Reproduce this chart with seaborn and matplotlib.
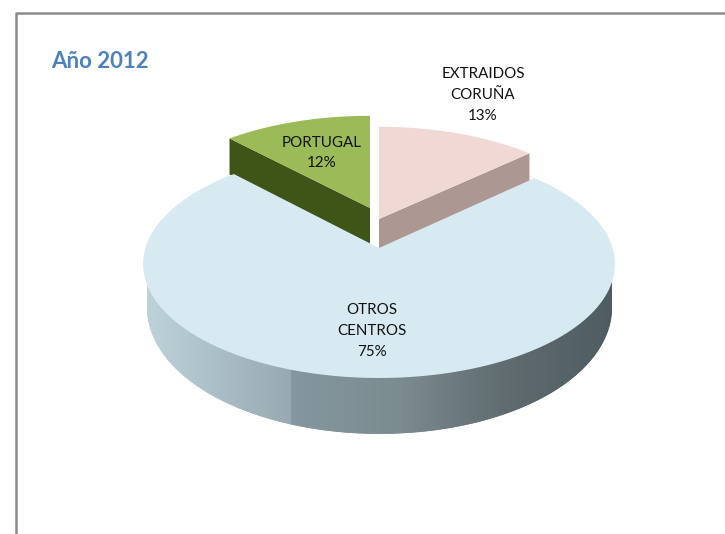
import numpy as np
import matplotlib
matplotlib.use("Agg")
import matplotlib.pyplot as plt
import seaborn as sns

categories = ["EXTRAIDOS\nCORUÑA", "OTROS\nCENTROS", "PORTUGAL"]
shares = [13, 75, 12]
title = "Año 2012"

sns.set_theme(style="white")
plt.rcParams["font.family"] = ["Lato", "DejaVu Sans"]

# pie geometry, in pixels of the 725x534 picture
APEX = (379, 248)
RX, RY, TILT = 233.6, 111.8, 0.14
THICK = 55
WALL_STEP = 291  # the wall changes shade abruptly here
wall_left = ["#bdd3da", "#98aab1"]
wall_right = ["#84969e", "#7b8b90", "#5e6b6f", "#4d5a60"]


def rim(theta, scale=1.0, xscale=1.0):
    # theta is clockwise from 12 o'clock, in degrees
    t = np.radians(theta)
    x, y = np.sin(t), np.cos(t)
    d = 1 + TILT * y
    return xscale * scale * RX * x / d, -scale * RY * y / d


def slice_xy(start, end, apex, scale=1.0, xscale=1.0):
    xs, ys = rim(np.linspace(start, end, 120), scale, xscale)
    return np.r_[apex[0], apex[0] + xs], np.r_[apex[1], apex[1] + ys]


edges = np.cumsum([0] + shares) * 3.6

fig, ax = plt.subplots(figsize=(7.25, 5.34), dpi=100)
ax.set_position([0, 0, 1, 1])
ax.set_xlim(0, 725)
ax.set_ylim(534, 0)
ax.axis("off")

# frame
ax.plot([16.5, 16.5, 725], [534, 12.5, 12.5], color="#8c8c8c", lw=1.8)

# exploded slices: side first, then top
pink_apex = (379, 219)
green_apex = (370, 208)
S = 0.94
SX = 1.03
cx, cy = rim(edges[1], S, SX)
ax.fill([pink_apex[0], pink_apex[0] + cx, pink_apex[0] + cx, pink_apex[0]],
        [pink_apex[1], pink_apex[1] + cy, pink_apex[1] + cy + 37, pink_apex[1] + 37],
        color="#ad9793", lw=0)
ax.fill(*slice_xy(edges[0], edges[1], pink_apex, S, SX), color="#f0d9d5", lw=0)

cx, cy = rim(edges[2], S, SX)
ax.fill([green_apex[0], green_apex[0] + cx, green_apex[0] + cx, green_apex[0]],
        [green_apex[1], green_apex[1] + cy, green_apex[1] + cy + 36, green_apex[1] + 36],
        color="#3f5518", lw=0)
ax.fill(*slice_xy(edges[2], edges[3], green_apex, S, SX), color="#9bbb59", lw=0)

# wall of the big slice, strip by strip
# theta range starts where the rim is widest, so x runs one way only
theta = np.linspace(98, 262, 400)
xs, ys = rim(theta)
order = np.argsort(xs)
x_top = APEX[0] + xs[order]
y_top = APEX[1] + ys[order]
depth = THICK * (0.73 + 0.27 * np.abs(np.cos(np.radians(theta[order] - 180))))
x_bot = APEX[0] + 0.985 * xs[order]
y_bot = y_top + depth

x_grid = np.arange(x_top[0], x_top[-1], 1.0)
top_line = np.interp(x_grid, x_top, y_top)
bot_line = np.interp(x_grid, x_bot, y_bot, left=np.nan, right=np.nan)
n_left = int((x_grid < WALL_STEP).sum())
strip_colors = (sns.blend_palette(wall_left, n_left)
                + sns.blend_palette(wall_right, len(x_grid) - n_left))
for i in range(len(x_grid) - 1):
    ax.fill_between(x_grid[i:i + 2], top_line[i:i + 2] - 3, bot_line[i:i + 2],
                    color=strip_colors[i], lw=0.6)

# top of the big slice
ax.fill(*slice_xy(edges[1], edges[2], APEX), color="#d7eaf2", lw=0)

# labels
lab = dict(ha="center", va="center", fontsize=10.9, color="#111111", linespacing=1.6)
ax.text(483, 95, f"{categories[0]}\n{shares[0]}%", **lab)
ax.text(372, 331, f"{categories[1]}\n{shares[1]}%", **lab)
ax.text(322, 153, f"{categories[2]}\n{shares[2]}%", **lab)
ax.text(51, 61, title, ha="left", va="center", fontsize=16, fontweight="bold", color="#4f81bd")

fig.savefig("out.png", dpi=100)
